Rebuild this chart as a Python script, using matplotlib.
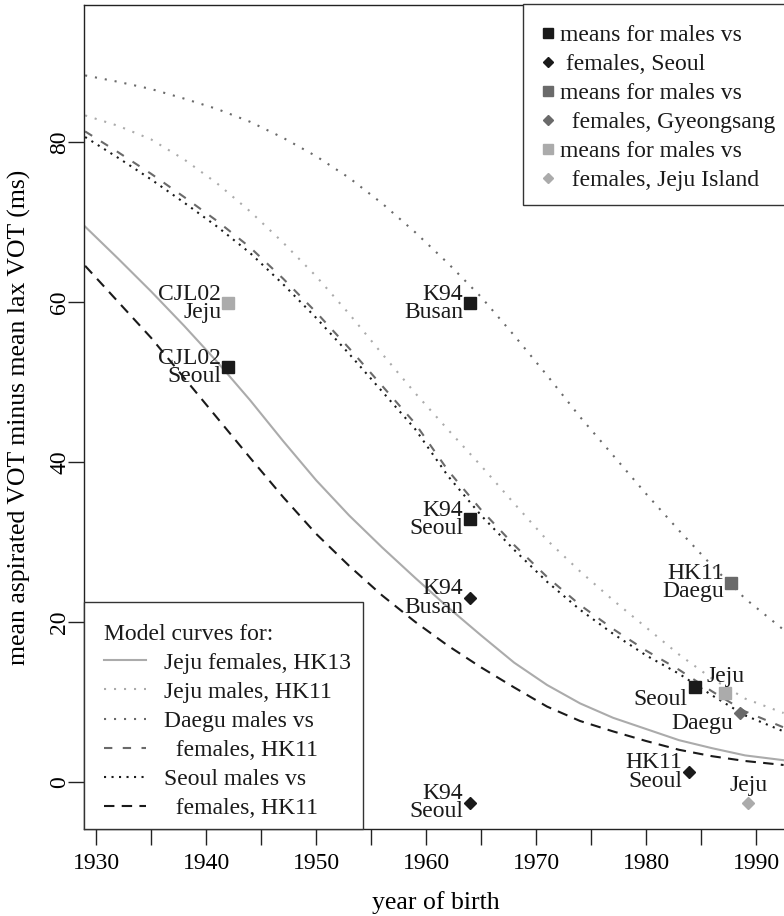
import matplotlib.pyplot as plt
from matplotlib.lines import Line2D
from matplotlib.patches import Rectangle

plt.rcParams['font.family'] = ['Liberation Serif', 'DejaVu Serif']
plt.rcParams['font.size'] = 17
plt.rcParams['text.color'] = '#1a1a1a'

# model curves: year of birth vs VOT difference (ms)
jeju_f_year = [1929, 1932, 1935, 1938, 1941, 1944, 1947, 1950, 1953, 1956, 1959, 1962,
               1965, 1968, 1971, 1974, 1977, 1980, 1983, 1986, 1989, 1992.5]
jeju_f_vot = [69.4, 65.4, 61.3, 57.0, 52.5, 47.7, 42.6, 37.7, 33.3, 29.3, 25.5, 21.8,
              18.3, 14.9, 12.1, 9.8, 8.0, 6.6, 5.2, 4.2, 3.3, 2.7]

jeju_m_year = [1929, 1932, 1935, 1938, 1941, 1944, 1947, 1950, 1953, 1956, 1959, 1962,
               1965, 1968, 1971, 1974, 1977, 1980, 1983, 1986, 1989, 1992.5]
jeju_m_vot = [83.3, 82.0, 80.3, 77.8, 74.8, 71.3, 67.4, 63.2, 58.5, 53.5, 48.6, 44.0,
              39.5, 34.8, 30.2, 26.3, 22.7, 19.3, 15.9, 12.9, 10.4, 8.6]

daegu_m_year = [1929, 1932, 1935, 1938, 1941, 1944, 1947, 1950, 1953, 1956, 1959, 1962,
                1965, 1968, 1971, 1974, 1977, 1980, 1983, 1986, 1989, 1992.5]
daegu_m_vot = [88.3, 87.5, 86.6, 85.4, 84.1, 82.5, 80.5, 78.2, 75.5, 72.3, 68.7, 64.8,
               60.6, 55.8, 50.8, 45.6, 40.8, 36.0, 31.4, 27.0, 22.9, 19.0]

pair_year = [1929, 1932, 1935, 1938, 1941, 1944, 1947, 1950, 1953, 1956, 1959, 1962,
             1965, 1968, 1971, 1974, 1977, 1980, 1983, 1986, 1989, 1992.5]
daegu_f_vot = [81.3, 78.7, 76.0, 73.1, 70.1, 66.8, 62.9, 58.7, 54.2, 49.5, 44.8, 38.9,
               34.0, 29.6, 25.6, 22.1, 19.1, 16.4, 14.0, 11.3, 8.8, 6.8]
seoul_m_vot = [80.6, 78.0, 75.3, 72.4, 69.4, 66.1, 62.2, 58.0, 53.5, 48.8, 44.1, 38.2,
               33.3, 29.0, 25.0, 21.5, 18.5, 15.8, 13.5, 10.8, 8.3, 6.3]

seoul_f_year = [1929, 1932, 1935, 1938, 1941, 1944, 1947, 1950, 1953, 1956, 1959, 1962,
                1965, 1968, 1971, 1974, 1977, 1980, 1983, 1986, 1989, 1992.5]
seoul_f_vot = [64.5, 60.0, 55.5, 50.5, 45.5, 40.5, 35.6, 31.0, 27.0, 23.3, 20.0, 17.0,
               14.3, 11.8, 9.4, 7.6, 6.3, 5.1, 4.0, 3.2, 2.6, 2.1]

curve_labels = ['Jeju females, HK13', 'Jeju males, HK11', 'Daegu males vs',
                '  females, HK11', 'Seoul males vs', '  females, HK11']

# study means
sq_black_year = [1942, 1964, 1964, 1984.4]
sq_black_vot = [51.8, 59.8, 32.8, 11.8]
sq_black_lab = ['CJL02\nSeoul', 'K94\nBusan', 'K94\nSeoul', 'Seoul']

dm_black_year = [1964, 1964, 1983.9]
dm_black_vot = [23.0, -2.6, 1.2]
dm_black_lab = ['K94\nBusan', 'K94\nSeoul', 'HK11\nSeoul']

sq_dgray_year = [1987.7]
sq_dgray_vot = [24.9]
sq_dgray_lab = ['HK11\nDaegu']

dm_dgray_year = [1988.5]
dm_dgray_vot = [8.6]
dm_dgray_lab = ['Daegu']

sq_lgray_year = [1942, 1987.2]
sq_lgray_vot = [59.8, 11.1]
sq_lgray_lab = ['CJL02\nJeju', 'Jeju']

dm_lgray_year = [1989.3]
dm_lgray_vot = [-2.6]
dm_lgray_lab = ['Jeju']

point_labels = ['means for males vs', ' females, Seoul', 'means for males vs',
                '  females, Gyeongsang', 'means for males vs', '  females, Jeju Island']

# label placement: 'L' left of point, 'LB' left and a little below, 'A' above
sq_black_pos = ['L', 'L', 'L', 'LB']
dm_black_pos = ['L', 'L', 'L']
sq_dgray_pos = ['L']
dm_dgray_pos = ['LB2']
sq_lgray_pos = ['L', 'A']
dm_lgray_pos = ['A']

black, dgray, lgray = '#1a1a1a', '#6a6a6a', '#ababab'
frame_c = '#333333'

fig = plt.figure(figsize=(7.84, 9.16), dpi=100)
ax = fig.add_axes([84 / 784, 87 / 916, 704 / 784, 824 / 916])

lw = 1.5
l1, = ax.plot(jeju_f_year, jeju_f_vot, color=lgray, lw=lw, ls='-')
l2, = ax.plot(jeju_m_year, jeju_m_vot, color=lgray, lw=lw, ls=(0, (1.0, 3.8)))
l3, = ax.plot(daegu_m_year, daegu_m_vot, color=dgray, lw=lw, ls=(0, (1.0, 3.8)))
l4, = ax.plot(pair_year, daegu_f_vot, color=dgray, lw=lw, ls=(0, (4.0, 5.0)))
l5, = ax.plot(pair_year, seoul_m_vot, color=black, lw=lw, ls=(0, (1.0, 2.6)))
l6, = ax.plot(seoul_f_year, seoul_f_vot, color=black, lw=lw, ls=(0, (5.0, 3.5)))

offsets = {'L': ((-5, 0), 'right'), 'LB': ((-5, -8.5), 'right'),
           'LB2': ((-5, -7.5), 'right'), 'A': ((0, 12), 'center')}

groups = [
    (sq_black_year, sq_black_vot, sq_black_lab, sq_black_pos, 's', black, 8),
    (dm_black_year, dm_black_vot, dm_black_lab, dm_black_pos, 'D', black, 6.5),
    (sq_dgray_year, sq_dgray_vot, sq_dgray_lab, sq_dgray_pos, 's', dgray, 8),
    (dm_dgray_year, dm_dgray_vot, dm_dgray_lab, dm_dgray_pos, 'D', dgray, 6.5),
    (sq_lgray_year, sq_lgray_vot, sq_lgray_lab, sq_lgray_pos, 's', lgray, 8),
    (dm_lgray_year, dm_lgray_vot, dm_lgray_lab, dm_lgray_pos, 'D', lgray, 6.5),
]
for xs, ys, labs, poss, m, c, s in groups:
    ax.plot(xs, ys, ls='none', marker=m, color=c, markersize=s)
    for x, y, lab, p in zip(xs, ys, labs, poss):
        off, ha = offsets[p]
        ax.annotate(lab, (x, y), xytext=off, textcoords='offset points',
                    ha=ha, va='center', multialignment=ha, linespacing=0.86)

ax.set_xlim(1928.9, 1992.9)
ax.set_ylim(-5.9, 97.1)
ax.set_xticks(range(1930, 1991, 10))
ax.set_xticks(range(1935, 1991, 10), minor=True)
ax.set_yticks([0, 20, 40, 60, 80])
ax.tick_params(which='both', direction='out', length=11.5, width=1.0, color='#222222')
ax.tick_params(axis='x', labelsize=17, pad=6)
ax.tick_params(axis='y', labelsize=17, pad=-1.5, labelrotation=90)
for t in ax.get_yticklabels():
    t.set_va('center')
for sp in ax.spines.values():
    sp.set_linewidth(1.0)
    sp.set_color('#222222')

ax.set_xlabel('year of birth', fontsize=18.5, labelpad=12)
ax.set_ylabel('mean aspirated VOT minus mean lax VOT (ms)', fontsize=18.5, labelpad=13)

# legend frames (white boxes drawn under the legend contents)
ax.add_patch(Rectangle((0.6236, 0.7573), 0.40, 0.2439, transform=ax.transAxes,
                       facecolor='white', edgecolor=frame_c, lw=1.0,
                       clip_on=False, zorder=4.5))
ax.add_patch(Rectangle((0.0, 0.0), 0.3963, 0.2755, transform=ax.transAxes,
                       facecolor='white', edgecolor=frame_c, lw=1.0,
                       clip_on=False, zorder=4.5))

pt_handles = [
    Line2D([], [], ls='none', marker='s', color=black, markersize=7),
    Line2D([], [], ls='none', marker='D', color=black, markersize=5.5),
    Line2D([], [], ls='none', marker='s', color=dgray, markersize=7),
    Line2D([], [], ls='none', marker='D', color=dgray, markersize=5.5),
    Line2D([], [], ls='none', marker='s', color=lgray, markersize=7),
    Line2D([], [], ls='none', marker='D', color=lgray, markersize=5.5),
]
leg1 = ax.legend(pt_handles, point_labels, loc='upper left',
                 bbox_to_anchor=(0.649, 0.9766), borderaxespad=0, borderpad=0,
                 frameon=False, handlelength=0.6, handletextpad=0.2,
                 labelspacing=0.32, fontsize=17)
ax.add_artist(leg1)

leg2 = ax.legend([l1, l2, l3, l4, l5, l6], curve_labels, loc='lower left',
                 bbox_to_anchor=(0.0284, 0.0121), borderaxespad=0, borderpad=0,
                 frameon=False, title='Model curves for:', title_fontsize=17,
                 alignment='left', handlelength=1.8, handletextpad=0.74,
                 labelspacing=0.32, fontsize=17)

fig.savefig('out.png', dpi=100)
